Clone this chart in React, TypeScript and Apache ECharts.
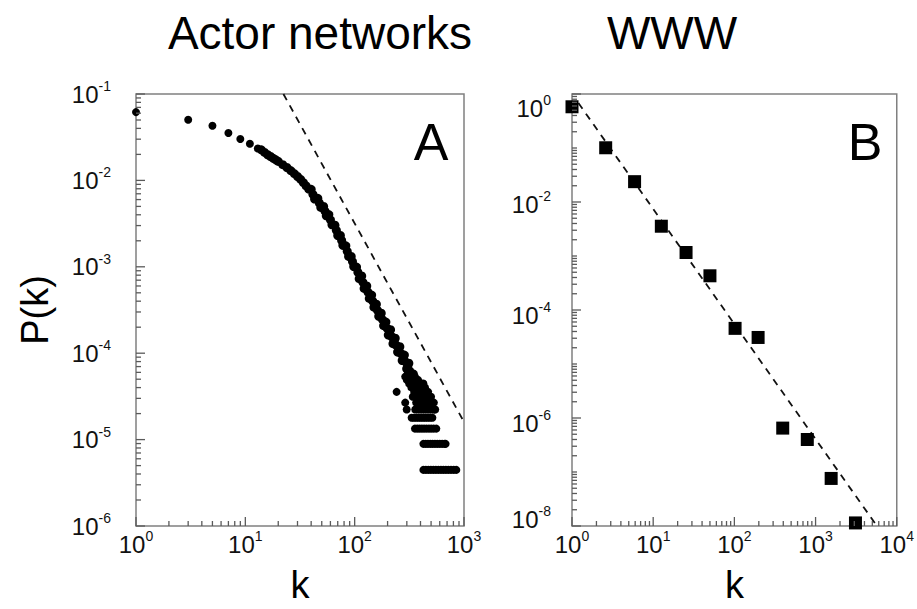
import React, { useEffect, useRef } from "react";
import * as echarts from "echarts";

// ---------- data ----------
// Panel A: actor network degree distribution (k, P(k))
const actorHead: [number, number][] = [
  [1, 0.0617], [3, 0.0503], [5, 0.043], [7, 0.0354], [9, 0.0302], [11, 0.0265], [13, 0.0234],
];
const actorBand: [number, number][] = [
  [14, 0.0226], [15, 0.0211], [16, 0.0198], [17, 0.0189], [18, 0.018], [19, 0.0173], [20, 0.0166],
  [22, 0.0152], [24, 0.0141], [26, 0.013], [28, 0.012], [30, 0.0111], [32, 0.0103], [34, 0.0094],
  [36, 0.00863], [38, 0.00794], [40, 0.00789], [43, 0.00608], [46, 0.00621], [49, 0.00486],
  [52, 0.00499], [55, 0.00389], [58, 0.00402], [62, 0.00306], [66, 0.00303], [70, 0.0023],
  [74, 0.00231], [78, 0.00177], [83, 0.00175], [88, 0.00132], [93, 0.00132], [98, 0.001005],
  [104, 0.000993], [110, 0.000728], [116, 0.000785], [122, 0.000562], [129, 0.000601],
  [136, 0.00043], [143, 0.000471], [150, 0.000341], [158, 0.000369], [166, 0.000267],
  [175, 0.00029], [184, 0.000208], [193, 0.000229], [203, 0.000162], [213, 0.000187],
  [224, 0.000129], [235, 0.000149], [247, 0.000103], [259, 0.000119], [272, 8.22e-5],
  [285, 9.51e-5], [299, 6.61e-5], [313, 7.66e-5],
];
const actorBandMid: [number, number][] = [
  [41.5, 0.0069], [44.5, 0.00614], [47.5, 0.00548], [50.5, 0.00494], [53.5, 0.00441],
  [56.5, 0.00394], [60, 0.0035], [64, 0.00306], [68, 0.00264], [72, 0.00231], [76, 0.00202],
  [80.5, 0.00176], [85.5, 0.00151], [90.5, 0.00131], [95.5, 0.00115], [101, 0.001],
  [107, 0.000865], [113, 0.000753], [119, 0.000661], [125.5, 0.000578], [132.5, 0.000509],
  [139.5, 0.000449], [146.5, 0.0004], [154, 0.000354], [162, 0.000313], [170.5, 0.000277],
  [179.5, 0.000245], [188.5, 0.000219], [198, 0.000194], [208, 0.000173], [218.5, 0.000155],
  [229.5, 0.000138], [241, 0.000123], [253, 0.00011], [265.5, 9.88e-5], [278.5, 8.83e-5],
  [292, 7.94e-5], [306, 7.11e-5],
];
const actorTail: [number, number][] = [
  [305, 6.25e-5], [322, 6.25e-5],
  [318, 5.8e-5], [334, 5.8e-5], [348, 5.8e-5],
  [290, 5.36e-5], [328, 5.36e-5], [342, 5.36e-5], [356, 5.36e-5],
  [300, 4.91e-5], [336, 4.91e-5], [352, 4.91e-5], [366, 4.91e-5], [380, 4.91e-5],
  [315, 4.46e-5], [345, 4.46e-5], [362, 4.46e-5], [378, 4.46e-5], [392, 4.46e-5], [408, 4.46e-5], [425, 4.46e-5],
  [330, 4.02e-5], [355, 4.02e-5], [372, 4.02e-5], [388, 4.02e-5], [404, 4.02e-5], [420, 4.02e-5], [440, 4.02e-5],
  [242, 3.57e-5], [350, 3.57e-5], [366, 3.57e-5], [382, 3.57e-5], [398, 3.57e-5], [414, 3.57e-5], [432, 3.57e-5], [450, 3.57e-5], [470, 3.57e-5],
  [340, 3.13e-5], [362, 3.13e-5], [380, 3.13e-5], [398, 3.13e-5], [416, 3.13e-5], [436, 3.13e-5], [456, 3.13e-5], [478, 3.13e-5], [500, 3.13e-5],
  [290, 2.68e-5], [365, 2.68e-5], [385, 2.68e-5], [405, 2.68e-5], [425, 2.68e-5], [445, 2.68e-5], [466, 2.68e-5], [488, 2.68e-5], [512, 2.68e-5], [530, 2.68e-5],
  [299, 2.23e-5], [358, 2.23e-5], [378, 2.23e-5], [398, 2.23e-5], [418, 2.23e-5], [438, 2.23e-5], [460, 2.23e-5], [482, 2.23e-5], [506, 2.23e-5], [530, 2.23e-5], [545, 2.23e-5],
  [332, 1.79e-5], [348, 1.79e-5], [366, 1.79e-5], [384, 1.79e-5], [402, 1.79e-5], [422, 1.79e-5], [442, 1.79e-5], [464, 1.79e-5], [488, 1.79e-5], [514, 1.79e-5],
  [356, 1.34e-5], [374, 1.34e-5], [392, 1.34e-5], [412, 1.34e-5], [432, 1.34e-5], [454, 1.34e-5], [478, 1.34e-5], [502, 1.34e-5], [528, 1.34e-5], [558, 1.34e-5],
  [425, 8.93e-6], [446, 8.93e-6], [468, 8.93e-6], [492, 8.93e-6], [516, 8.93e-6], [542, 8.93e-6], [570, 8.93e-6], [600, 8.93e-6], [632, 8.93e-6], [665, 8.93e-6], [679, 8.93e-6],
  [425, 4.46e-6], [448, 4.46e-6], [472, 4.46e-6], [498, 4.46e-6], [525, 4.46e-6], [553, 4.46e-6], [583, 4.46e-6], [615, 4.46e-6], [648, 4.46e-6], [683, 4.46e-6], [720, 4.46e-6], [760, 4.46e-6], [805, 4.46e-6], [851, 4.46e-6],
];
const actorFit: [number, number][] = [[22.3, 0.1], [1000, 1.6e-5]];

// Panel B: WWW degree distribution
const wwwK = [1, 2.6, 5.9, 12.6, 25.4, 50, 102, 196, 394, 791, 1556, 3100];
const wwwP = [0.58, 0.101, 0.0238, 0.00356, 0.00116, 0.00043, 4.57e-5, 3.1e-5, 6.5e-7, 4.0e-7, 7.6e-8, 1.14e-8];
const wwwFitK = [1.2, 5700];
const wwwFitP = [0.68, 1e-8];

// Axis ticks (major; minor ticks at 2..9 of each decade)
const actorXTicks = [1, 10, 100, 1000];
const actorYTicks = [1e-6, 1e-5, 1e-4, 1e-3, 1e-2, 1e-1];
const wwwXTicks = [1, 10, 100, 1000, 10000];
const wwwYTicks = [1e-8, 1e-6, 1e-4, 1e-2, 1];

const titles = ["Actor networks", "WWW"];
const panelLetters = ["A", "B"];

// ---------- helpers ----------
const FONT = '"Liberation Sans", Arial, Helvetica, sans-serif';
const INK = "#111";
const FRAME = "#808080";
const TICK = "#5a5a5a";

const rich: any = {
  b: { fontSize: 24, fontFamily: FONT, color: INK, lineHeight: 30 },
  s: { fontSize: 14, fontFamily: FONT, color: INK, lineHeight: 16, verticalAlign: "top" },
  g4: { fontSize: 1, lineHeight: 4 },
  g10: { fontSize: 1, lineHeight: 10 },
  g14: { fontSize: 1, lineHeight: 14 },
  g28: { fontSize: 1, lineHeight: 28 },
};

const expOf = (v: number) => Math.round(Math.log10(v));
const powLabel = (v: number) => `{b|10}{s|${expOf(v)}}`;
const wwwYLabel = (v: number) => {
  const e = expOf(v);
  if (e % 2 !== 0) return "";
  const core = powLabel(v);
  if (e === 0) return `{g28| }\n${core}`;
  if (e === -2) return `{g4| }\n${core}`;
  if (e === -8) return `${core}\n{g14| }`;
  return `{g10| }\n${core}`;
};

function tickValues(major: number[], range: [number, number]) {
  const near = (a: number) => major.some((b) => Math.abs(a / b - 1) < 1e-6);
  const minor: number[] = [];
  const e0 = Math.round(Math.log10(range[0]));
  const e1 = Math.round(Math.log10(range[1]));
  for (let e = e0; e < e1; e++) {
    for (let m = 1; m <= 9; m++) {
      const v = m * Math.pow(10, e);
      if (!near(v)) minor.push(v);
    }
  }
  return minor;
}

// inward tick marks drawn as thin rect symbols at axis positions
const xTickSeries = (idx: number, values: number[], yAt: number, len: number) => ({
  type: "scatter",
  xAxisIndex: idx,
  yAxisIndex: idx,
  silent: true,
  clip: false,
  symbol: "rect",
  symbolSize: [1.3, len],
  symbolOffset: [0, -len / 2],
  itemStyle: { color: TICK, opacity: 1 },
  z: 6,
  data: values.map((v) => [v, yAt]),
});
const yTickSeries = (idx: number, values: number[], xAt: number, len: number) => ({
  type: "scatter",
  xAxisIndex: idx,
  yAxisIndex: idx,
  silent: true,
  clip: false,
  symbol: "rect",
  symbolSize: [len, 1.3],
  symbolOffset: [len / 2, 0],
  itemStyle: { color: TICK, opacity: 1 },
  z: 6,
  data: values.map((v) => [xAt, v]),
});

const axisCommon = {
  type: "log",
  logBase: 10,
  axisLine: { show: false },
  axisTick: { show: false },
  splitLine: { show: false },
};

const nameStyle = { fontSize: 38, fontFamily: FONT, color: "#000" };

function buildOption(): any {
  return {
    animation: false,
    backgroundColor: "#fff",
    grid: [
      { left: 136, top: 94, width: 328, height: 436, show: true, borderColor: FRAME, borderWidth: 1.5 },
      { left: 572, top: 94, width: 331, height: 436, show: true, borderColor: FRAME, borderWidth: 1.5 },
    ],
    xAxis: [
      {
        ...axisCommon,
        gridIndex: 0,
        min: 1,
        max: 1000,
        axisLabel: { formatter: powLabel, rich, margin: 3 },
        name: "k",
        nameLocation: "middle",
        nameGap: 40,
        nameTextStyle: nameStyle,
      },
      {
        ...axisCommon,
        gridIndex: 1,
        min: 1,
        max: 10000,
        axisLabel: { formatter: powLabel, rich, margin: 3 },
        name: "k",
        nameLocation: "middle",
        nameGap: 40,
        nameTextStyle: nameStyle,
      },
    ],
    yAxis: [
      {
        ...axisCommon,
        gridIndex: 0,
        min: 1e-6,
        max: 0.1,
        axisLabel: { formatter: powLabel, rich, margin: 25 },
        name: "P(k)",
        nameLocation: "middle",
        nameRotate: 90,
        nameGap: 82,
        nameTextStyle: nameStyle,
      },
      {
        ...axisCommon,
        gridIndex: 1,
        min: 1e-8,
        max: 1,
        axisLabel: { formatter: wwwYLabel, rich, margin: 21 },
      },
    ],
    graphic: [
      { type: "text", x: 320, y: 33, style: { text: titles[0], fontSize: 46, fontFamily: FONT, fill: "#000", align: "center", verticalAlign: "middle" } },
      { type: "text", x: 672, y: 33, style: { text: titles[1], fontSize: 46, fontFamily: FONT, fill: "#000", align: "center", verticalAlign: "middle" } },
      { type: "text", x: 431, y: 142, style: { text: panelLetters[0], fontSize: 52, fontFamily: FONT, fill: "#000", align: "center", verticalAlign: "middle" } },
      { type: "text", x: 865, y: 142, style: { text: panelLetters[1], fontSize: 52, fontFamily: FONT, fill: "#000", align: "center", verticalAlign: "middle" } },
    ],
    series: [
      {
        type: "line",
        xAxisIndex: 0,
        yAxisIndex: 0,
        data: actorFit,
        showSymbol: false,
        silent: true,
        lineStyle: { color: "#111", width: 1.8, type: [7, 6], opacity: 1 },
        z: 2,
      },
      {
        type: "scatter",
        xAxisIndex: 0,
        yAxisIndex: 0,
        data: actorHead,
        symbol: "circle",
        symbolSize: 8,
        itemStyle: { color: "#000", opacity: 1 },
        silent: true,
        z: 3,
      },
      {
        type: "scatter",
        xAxisIndex: 0,
        yAxisIndex: 0,
        data: [...actorBand, ...actorBandMid],
        symbol: "circle",
        symbolSize: 9,
        itemStyle: { color: "#000", opacity: 1 },
        silent: true,
        z: 3,
      },
      {
        type: "scatter",
        xAxisIndex: 0,
        yAxisIndex: 0,
        data: actorTail,
        symbol: "circle",
        symbolSize: 8,
        itemStyle: { color: "#000", opacity: 1 },
        silent: true,
        z: 3,
      },
      {
        type: "line",
        xAxisIndex: 1,
        yAxisIndex: 1,
        data: wwwFitK.map((k, i) => [k, wwwFitP[i]]),
        showSymbol: false,
        silent: true,
        lineStyle: { color: "#111", width: 1.8, type: [7, 6], opacity: 1 },
        z: 2,
      },
      {
        type: "scatter",
        xAxisIndex: 1,
        yAxisIndex: 1,
        data: wwwK.map((k, i) => [k, wwwP[i]]),
        symbol: "rect",
        symbolSize: 13,
        itemStyle: { color: "#000", opacity: 1 },
        silent: true,
        z: 3,
      },
      xTickSeries(0, actorXTicks, 1e-6, 9),
      xTickSeries(0, tickValues(actorXTicks, [1, 1000]), 1e-6, 5),
      yTickSeries(0, actorYTicks, 1, 9),
      yTickSeries(0, tickValues(actorYTicks, [1e-6, 0.1]), 1, 5),
      xTickSeries(1, wwwXTicks, 1e-8, 9),
      xTickSeries(1, tickValues(wwwXTicks, [1, 10000]), 1e-8, 5),
      yTickSeries(1, wwwYTicks, 1, 9),
      yTickSeries(1, tickValues(wwwYTicks, [1e-8, 1]), 1, 5),
    ],
  };
}

export default function App() {
  const ref = useRef<HTMLDivElement>(null);
  useEffect(() => {
    if (!ref.current) return;
    const chart = echarts.init(ref.current, undefined, { renderer: "svg" });
    chart.setOption(buildOption());
    return () => chart.dispose();
  }, []);
  return (
    <div
      ref={ref}
      style={{ position: "fixed", left: 0, top: 0, width: 917, height: 609, background: "#fff" }}
    />
  );
}
